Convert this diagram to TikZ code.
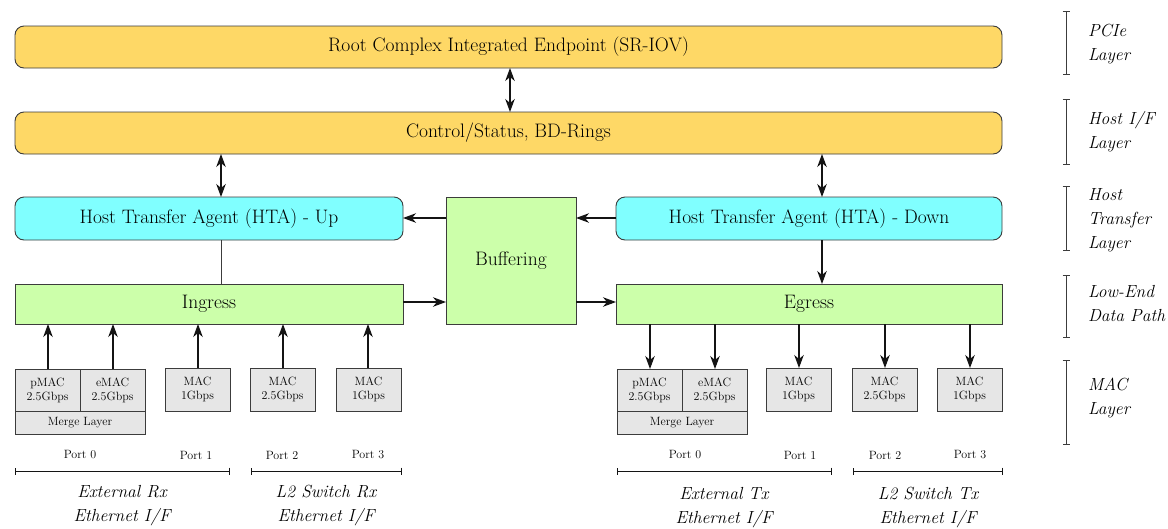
\documentclass[tikz,border=0pt]{standalone}
\usepackage{fontspec}
\setmainfont{Latin Modern Roman}
\usetikzlibrary{arrows.meta,positioning}
\definecolor{hostyellow}{RGB}{254,216,102}
\definecolor{htacyan}{RGB}{128,255,255}
\definecolor{pathgreen}{RGB}{204,255,170}
\definecolor{macgray}{RGB}{230,230,230}
\definecolor{edge}{RGB}{60,60,60}
\definecolor{wire}{RGB}{20,20,20}
\tikzset{
  x=1pt, y=-1pt,
  every node/.style={inner sep=0pt, outer sep=0pt},
  blk/.style={draw=edge, line width=0.9pt, anchor=north west, font=\fontsize{19.5}{22}\selectfont},
  roundblk/.style={blk, rounded corners=9pt},
  macbox/.style={draw=edge, line width=0.9pt, fill=macgray, anchor=north west,
                 align=center, font=\fontsize{12}{14}\selectfont},
  conn/.style={draw=wire, line width=1.1pt},
  tip/.tip={Stealth[length=13pt,width=9.5pt,inset=4pt]},
  arr/.style={conn, -tip},
  darr/.style={conn, tip-tip},
  portlbl/.style={font=\fontsize{12}{14}\selectfont},
  grouplbl/.style={font=\fontsize{17.5}{24}\selectfont\itshape, align=center},
  layerlbl/.style={font=\fontsize{17.5}{24}\selectfont\itshape, align=left, anchor=west},
  span/.style={conn, line width=1pt, |-|},
}
\begin{document}
\begin{tikzpicture}
\useasboundingbox (0,0) rectangle (1168,528);

% top layers
\node[roundblk, fill=hostyellow, minimum width=987pt, minimum height=42pt] (rc) at (15,26) {Root Complex Integrated Endpoint (SR-IOV)};
\node[roundblk, fill=hostyellow, minimum width=987pt, minimum height=42pt] (cs) at (15,112) {Control/Status, BD-Rings};

% host transfer agents
\node[roundblk, fill=htacyan, minimum width=388pt, minimum height=43pt] (htaup) at (15,197) {Host Transfer Agent (HTA) - Up};
\node[roundblk, fill=htacyan, minimum width=386pt, minimum height=43pt] (htadn) at (616,197) {Host Transfer Agent (HTA) - Down};

% data path
\node[blk, fill=pathgreen, minimum width=130pt, minimum height=127pt] (buf) at (446,197) {Buffering};
\node[blk, fill=pathgreen, minimum width=388pt, minimum height=40pt] (ing) at (15,284) {Ingress};
\node[blk, fill=pathgreen, minimum width=386pt, minimum height=40pt] (egr) at (616,284) {Egress};

% MAC blocks, receive side
\node[macbox, minimum width=65pt, minimum height=42pt] (pmacL) at (15,369) {pMAC\\2.5Gbps};
\node[macbox, minimum width=65pt, minimum height=42pt] (emacL) at (80,369) {eMAC\\2.5Gbps};
\node[macbox, minimum width=130pt, minimum height=23pt] (mrgL) at (15,411) {Merge Layer};
\node[macbox, minimum width=65pt, minimum height=43pt] (mac1L) at (165,368) {MAC\\1Gbps};
\node[macbox, minimum width=65pt, minimum height=43pt] (mac2L) at (250,368) {MAC\\2.5Gbps};
\node[macbox, minimum width=65pt, minimum height=43pt] (mac3L) at (336,368) {MAC\\1Gbps};

% MAC blocks, transmit side
\node[macbox, minimum width=65pt, minimum height=42pt] (pmacR) at (617,369) {pMAC\\2.5Gbps};
\node[macbox, minimum width=65pt, minimum height=42pt] (emacR) at (682,369) {eMAC\\2.5Gbps};
\node[macbox, minimum width=130pt, minimum height=23pt] (mrgR) at (617,411) {Merge Layer};
\node[macbox, minimum width=65pt, minimum height=43pt] (mac1R) at (766,368) {MAC\\1Gbps};
\node[macbox, minimum width=65pt, minimum height=43pt] (mac2R) at (852,368) {MAC\\2.5Gbps};
\node[macbox, minimum width=65pt, minimum height=43pt] (mac3R) at (937,368) {MAC\\1Gbps};

% vertical links between layers
\draw[darr] (rc.south -| 510,0) -- (cs.north -| 510,0);
\draw[darr] (cs.south -| 221,0) -- (htaup.north -| 221,0);
\draw[darr] (cs.south -| 822,0) -- (htadn.north -| 822,0);
\draw[conn, draw=edge, line width=0.9pt] (htaup.south -| 221,0) -- (ing.north -| 221,0);
\draw[arr] (htadn.south -| 822,0) -- (egr.north -| 822,0);

% horizontal links through buffering
\draw[arr] (buf.west |- 0,218) -- (htaup.east |- 0,218);
\draw[arr] (htadn.west |- 0,218) -- (buf.east |- 0,218);
\draw[arr] (ing.east |- 0,302) -- (buf.west |- 0,302);
\draw[arr] (buf.east |- 0,302) -- (egr.west |- 0,302);

% MAC to ingress
\draw[arr] (pmacL.north -| 48,0) -- (ing.south -| 48,0);
\draw[arr] (emacL.north -| 113,0) -- (ing.south -| 113,0);
\draw[arr] (mac1L.north -| 198,0) -- (ing.south -| 198,0);
\draw[arr] (mac2L.north -| 283,0) -- (ing.south -| 283,0);
\draw[arr] (mac3L.north -| 368,0) -- (ing.south -| 368,0);

% egress to MAC
\draw[arr] (egr.south -| 650,0) -- (pmacR.north -| 650,0);
\draw[arr] (egr.south -| 715,0) -- (emacR.north -| 715,0);
\draw[arr] (egr.south -| 799,0) -- (mac1R.north -| 799,0);
\draw[arr] (egr.south -| 885,0) -- (mac2R.north -| 885,0);
\draw[arr] (egr.south -| 970,0) -- (mac3R.north -| 970,0);

% port labels
\node[portlbl] (p0L) at (80,455) {Port 0};
\node[portlbl] (p1L) at (196,455) {Port 1};
\node[portlbl] (p2L) at (282,455) {Port 2};
\node[portlbl] (p3L) at (368,455) {Port 3};
\node[portlbl] (p0R) at (685,455) {Port 0};
\node[portlbl] (p1R) at (800,455) {Port 1};
\node[portlbl] (p2R) at (885,455) {Port 2};
\node[portlbl] (p3R) at (970,455) {Port 3};

% interface groupings
\coordinate (gA1) at (15,471);  \coordinate (gA2) at (230,471);
\coordinate (gB1) at (251,471); \coordinate (gB2) at (402,471);
\coordinate (gC1) at (617,471); \coordinate (gC2) at (832,471);
\coordinate (gD1) at (853,471); \coordinate (gD2) at (1003,471);
\draw[span] (gA1) -- (gA2);
\draw[span] (gB1) -- (gB2);
\draw[span] (gC1) -- (gC2);
\draw[span] (gD1) -- (gD2);
\node[grouplbl] (extrx) at (122,506) {External Rx\\Ethernet I/F};
\node[grouplbl] (l2rx) at (326,506) {L2 Switch Rx\\Ethernet I/F};
\node[grouplbl] (exttx) at (724,508) {External Tx\\Ethernet I/F};
\node[grouplbl] (l2tx) at (928,508) {L2 Switch Tx\\Ethernet I/F};

% layer legend
\coordinate (l1a) at (1066,11);  \coordinate (l1b) at (1066,75);
\coordinate (l2a) at (1066,99);  \coordinate (l2b) at (1066,165);
\coordinate (l3a) at (1066,186); \coordinate (l3b) at (1066,251);
\coordinate (l4a) at (1066,275); \coordinate (l4b) at (1066,338);
\coordinate (l5a) at (1066,360); \coordinate (l5b) at (1066,445);
\begin{scope}[every path/.style={conn, line width=1pt, draw=edge, |-|}]
\draw (l1a) -- (l1b);
\draw (l2a) -- (l2b);
\draw (l3a) -- (l3b);
\draw (l4a) -- (l4b);
\draw (l5a) -- (l5b);
\end{scope}
\node[layerlbl] (lay1) at (1088,44) {PCIe\\Layer};
\node[layerlbl] (lay2) at (1088,132) {Host I/F\\Layer};
\node[layerlbl] (lay3) at (1088,220) {Host\\Transfer\\Layer};
\node[layerlbl] (lay4) at (1088,304) {Low-End\\Data Path};
\node[layerlbl] (lay5) at (1088,398) {MAC\\Layer};
\end{tikzpicture}
\end{document}
